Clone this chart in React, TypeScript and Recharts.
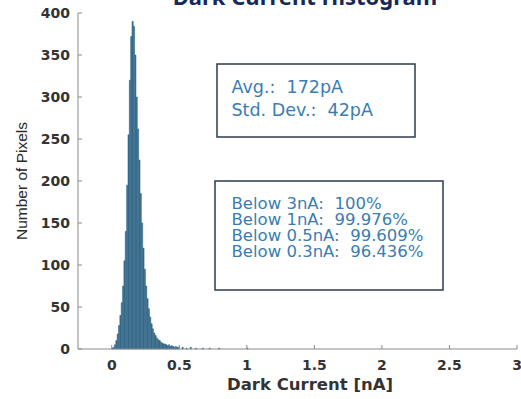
import React from "react";
import { BarChart, Bar, XAxis, YAxis } from "recharts";

const binCenters = [
  0.005, 0.015, 0.025, 0.035, 0.045, 0.055, 0.065, 0.075, 0.085, 0.095,
  0.105, 0.115, 0.125, 0.135, 0.145, 0.155, 0.165, 0.175, 0.185, 0.195,
  0.205, 0.215, 0.225, 0.235, 0.245, 0.255, 0.265, 0.275, 0.285, 0.295,
  0.305, 0.315, 0.325, 0.335, 0.345, 0.355, 0.365, 0.375, 0.385, 0.395,
  0.405, 0.415, 0.425, 0.435, 0.445, 0.455, 0.465, 0.475, 0.485, 0.495,
  0.525, 0.555, 0.585, 0.625, 0.675, 0.725, 0.795, 1.005,
];
const pixelCounts = [
  1, 2, 5, 10, 18, 28, 40, 55, 75, 105,
  140, 195, 255, 320, 372, 390, 384, 350, 300, 262,
  225, 185, 150, 120, 95, 75, 60, 48, 38, 30,
  24, 19, 16, 13, 11, 10, 8, 7, 6, 6,
  5, 4, 5, 3, 4, 3, 2, 3, 2, 2,
  2, 1, 2, 1, 1, 1, 1, 1,
];
const xTicks = [0, 0.5, 1, 1.5, 2, 2.5, 3];
const yTicks = [0, 50, 100, 150, 200, 250, 300, 350, 400];
const xTickLabels = ["0", "0.5", "1", "1.5", "2", "2.5", "3"];
const titleText = "Dark Current Histogram";
const xLabel = "Dark Current [nA]";
const yLabel = "Number of Pixels";
const statsLines = ["Avg.:\u00A0 172pA", "Std. Dev.:\u00A0 42pA"];
const belowLines = [
  "Below 3nA:\u00A0 100%",
  "Below 1nA:\u00A0 99.976%",
  "Below 0.5nA:\u00A0 99.609%",
  "Below 0.3nA:\u00A0 96.436%",
];

const data = binCenters.map((x, i) => ({ x, count: pixelCounts[i] }));

const W = 521;
const H = 399;
const tickFont = "'DejaVu Sans', sans-serif";
const tickColor = "#333333";
const axisColor = "#8a8a8a";
const annColor = "#3a7db3";
const boxColor = "#2e3a4e";
const barColor = "#356a8a";

const XTick = (props: any) => {
  const { x, y, payload } = props;
  const idx = xTicks.indexOf(payload.value);
  const label = idx >= 0 ? xTickLabels[idx] : String(payload.value);
  return (
    <g>
      <line x1={x} x2={x} y1={y} y2={y - 4} stroke={axisColor} strokeWidth={1} />
      <text
        x={x}
        y={y + 20.5}
        textAnchor="middle"
        fontFamily={tickFont}
        fontWeight="bold"
        fontSize={14}
        fill={tickColor}
      >
        {label}
      </text>
    </g>
  );
};

const YTick = (props: any) => {
  const { x, y, payload } = props;
  return (
    <g>
      <line x1={x} x2={x + 4} y1={y} y2={y} stroke={axisColor} strokeWidth={1} />
      <text
        x={x - 8}
        y={y + 5}
        textAnchor="end"
        fontFamily={tickFont}
        fontWeight="bold"
        fontSize={14}
        fill={tickColor}
      >
        {payload.value}
      </text>
    </g>
  );
};

export default function App() {
  return (
    <div style={{ position: "absolute", left: 0, top: 0, width: W, height: H, background: "#fff" }}>
      <BarChart
        width={W}
        height={H}
        data={data}
        margin={{ top: 13, right: 4, bottom: 0, left: 0 }}
        barCategoryGap={0}
        barGap={0}
      >
        <XAxis
          dataKey="x"
          type="number"
          domain={[-0.25, 3]}
          ticks={xTicks}
          allowDataOverflow
          height={50}
          tickSize={0}
          tickMargin={0}
          tickLine={false}
          axisLine={{ stroke: axisColor, strokeWidth: 1 }}
          tick={<XTick />}
          interval={0}
        />
        <YAxis
          type="number"
          domain={[0, 400]}
          ticks={yTicks}
          width={78}
          tickSize={0}
          tickMargin={0}
          tickLine={false}
          axisLine={{ stroke: axisColor, strokeWidth: 1 }}
          tick={<YTick />}
          interval={0}
        />
        <Bar
          dataKey="count"
          fill={barColor}
          stroke={barColor}
          strokeWidth={0.6}
          barSize={1.7}
          isAnimationActive={false}
        />
      </BarChart>
      <svg
        width={W}
        height={H}
        style={{ position: "absolute", left: 0, top: 0, pointerEvents: "none" }}
      >
        <text
          x={305}
          y={5}
          textAnchor="middle"
          fontFamily="'Noto Sans', sans-serif"
          fontWeight="bold"
          fontSize={22}
          fill="#15285a"
        >
          {titleText}
        </text>
        <text
          x={310}
          y={390}
          textAnchor="middle"
          fontFamily="'DejaVu Sans', sans-serif"
          fontWeight="bold"
          fontSize={16.5}
          fill={tickColor}
        >
          {xLabel}
        </text>
        <text
          x={27}
          y={181}
          transform="rotate(-90 27 181)"
          textAnchor="middle"
          fontFamily="'Liberation Sans', Arial, sans-serif"
          fontSize={15.5}
          fill="#2a2a2a"
        >
          {yLabel}
        </text>
        <rect x={217} y={64} width={198} height={73} fill="#fff" stroke={boxColor} strokeWidth={1.5} />
        {statsLines.map((t, i) => (
          <text
            key={t}
            x={231.5}
            y={93 + i * 22.5}
            fontFamily="'DejaVu Sans', sans-serif"
            fontSize={17.5}
            fill={annColor}
          >
            {t}
          </text>
        ))}
        <rect x={215} y={181} width={228} height={109} fill="#fff" stroke={boxColor} strokeWidth={1.5} />
        {belowLines.map((t, i) => (
          <text
            key={t}
            x={231.5}
            y={208.5 + i * 16.2}
            fontFamily="'DejaVu Sans', sans-serif"
            fontSize={16.5}
            fill={annColor}
          >
            {t}
          </text>
        ))}
      </svg>
    </div>
  );
}
